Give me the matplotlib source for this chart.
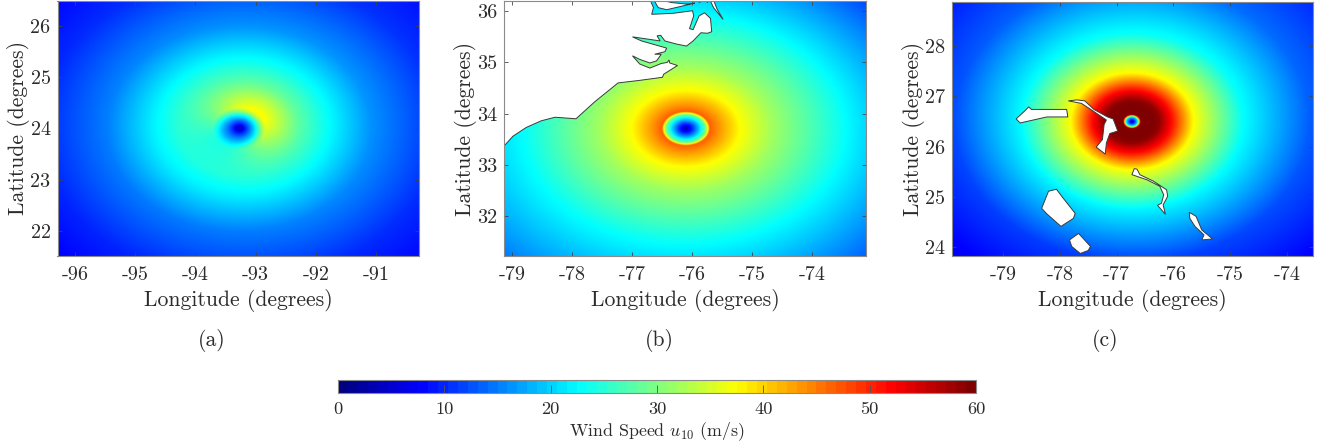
"""Wind speed fields for three storms, with a shared colorbar."""
import numpy as np
import matplotlib
matplotlib.use("Agg")
import matplotlib.pyplot as plt
from matplotlib.cm import ScalarMappable
from matplotlib.colors import LinearSegmentedColormap, Normalize
from matplotlib.patches import Polygon

plt.rcParams["font.family"] = ["cmr10", "DejaVu Serif"]
plt.rcParams["mathtext.fontset"] = "cm"
plt.rcParams["axes.formatter.use_mathtext"] = True
plt.rcParams["axes.unicode_minus"] = False

W, H = 1332, 446
TEXT = "#2b2b2b"
EDGE = "#8a8a8a"

# storm centres (lon, lat)
centre_a = (-93.28, 24.00)
centre_b = (-76.10, 33.71)
centre_c = (-76.73, 26.50)

# wind speed read against distance from the centre (degrees of latitude)
radius_a = [0.00, 0.08, 0.17, 0.26, 0.31, 0.40, 0.60, 0.90, 1.30, 2.00, 3.00, 4.00]
speed_a = [2.5, 8.5, 15.0, 21.0, 25.5, 31.0, 29.5, 26.5, 22.5, 15.5, 10.0, 7.0]
skew_a = [0.0, 0.0, 1.0, 3.0, 5.0, 7.0, 5.0, 2.0, 1.0, 0.8, 0.5, 0.5]

radius_b = [0.00, 0.08, 0.18, 0.27, 0.31, 0.33, 0.45, 0.75, 1.20, 2.25, 3.50, 4.50]
speed_b = [2.5, 9.0, 19.0, 29.0, 38.0, 47.0, 44.0, 37.5, 32.0, 22.5, 13.5, 10.0]
skew_b = [0.0, 0.0, 0.0, 0.0, 0.0, 0.0, 0.0, 0.0, 0.0, 0.3, 1.5, 1.5]

radius_c = [0.00, 0.05, 0.09, 0.115, 0.13, 0.15, 0.43, 0.65, 0.97, 1.75, 2.80, 4.00]
speed_c = [2.5, 12.0, 22.0, 36.0, 55.0, 62.0, 59.0, 51.0, 37.5, 22.5, 12.5, 7.5]
skew_c = [0.0, 0.0, 0.0, 0.0, 0.0, 0.0, 0.0, 0.0, 0.3, 0.5, 1.5, 1.5]

skew_angle = {"a": 45.0, "b": 225.0, "c": 70.0}

# land outlines (lon, lat)
coast_b = [
    (-79.25, 36.35), (-76.70, 36.35), (-76.70, 36.23), (-76.64, 36.07), (-76.67, 35.94),
    (-76.31, 35.96), (-75.99, 36.01), (-75.97, 35.91), (-76.04, 35.66), (-75.98, 35.64),
    (-75.88, 35.91), (-75.79, 35.97), (-75.69, 35.86), (-75.67, 35.60), (-75.74, 35.57),
    (-75.85, 35.58), (-75.98, 35.42), (-76.09, 35.32), (-76.26, 35.36), (-76.45, 35.42),
    (-76.52, 35.53), (-76.58, 35.52), (-76.53, 35.42), (-76.99, 35.50), (-76.84, 35.42),
    (-76.42, 35.28), (-76.45, 35.21), (-76.62, 35.16), (-76.51, 35.16), (-76.59, 35.03),
    (-76.70, 34.99), (-76.87, 35.06), (-76.99, 35.13), (-76.87, 34.97), (-76.70, 34.89),
    (-76.51, 34.98), (-76.41, 35.00), (-76.38, 35.05), (-76.37, 34.99), (-76.24, 34.94),
    (-76.47, 34.77), (-76.49, 34.71), (-76.87, 34.65), (-77.23, 34.60), (-77.62, 34.23),
    (-77.93, 33.90), (-78.28, 33.93), (-78.51, 33.86), (-78.76, 33.73), (-78.98, 33.56),
    (-79.12, 33.38), (-79.25, 33.28),
]
island_b1 = [(-76.63, 36.21), (-76.56, 36.07), (-76.42, 36.03), (-76.20, 36.09),
             (-75.95, 36.16), (-76.09, 36.14), (-76.34, 36.17), (-76.41, 36.19)]
island_b2 = [(-75.95, 36.25), (-75.87, 36.17), (-75.83, 36.25)]
island_b3 = [(-75.80, 36.25), (-75.74, 36.17), (-75.72, 36.25)]
island_b4 = [(-75.71, 36.25), (-75.64, 36.07), (-75.48, 35.84), (-75.58, 36.04), (-75.65, 36.25)]

island_c1 = [(-78.77, 26.55), (-78.60, 26.73), (-78.55, 26.79), (-78.50, 26.74),
             (-77.88, 26.74), (-77.86, 26.59), (-78.23, 26.59), (-78.70, 26.47)]
island_c2 = [(-77.85, 26.91), (-77.70, 26.93), (-77.56, 26.91), (-77.40, 26.74),
             (-77.16, 26.59), (-77.06, 26.55), (-76.98, 26.31), (-77.12, 26.26),
             (-77.18, 26.07), (-77.20, 25.85), (-77.36, 25.99), (-77.25, 26.14),
             (-77.22, 26.44), (-77.18, 26.53), (-77.47, 26.75), (-77.62, 26.86)]
island_c3 = [(-76.73, 25.44), (-76.69, 25.56), (-76.64, 25.55), (-76.59, 25.44),
             (-76.35, 25.31), (-76.12, 25.14), (-76.10, 25.01), (-76.18, 24.84),
             (-76.14, 24.65), (-76.21, 24.74), (-76.28, 24.83), (-76.21, 24.87),
             (-76.17, 25.04), (-76.24, 25.21), (-76.47, 25.34)]
island_c4 = [(-75.72, 24.69), (-75.60, 24.61), (-75.50, 24.34), (-75.31, 24.16),
             (-75.50, 24.14), (-75.46, 24.24), (-75.62, 24.41), (-75.71, 24.57)]
island_c5 = [(-78.32, 24.77), (-78.20, 25.11), (-78.06, 25.15), (-77.94, 24.97),
             (-77.73, 24.67), (-77.76, 24.57), (-77.98, 24.41), (-78.23, 24.66)]
island_c6 = [(-77.83, 24.14), (-77.67, 24.27), (-77.46, 24.01), (-77.50, 23.93),
             (-77.64, 23.87), (-77.79, 24.01)]

lon_ticks_a = [-96, -95, -94, -93, -92, -91]
lat_ticks_a = [22, 23, 24, 25, 26]
lon_ticks_b = [-79, -78, -77, -76, -75, -74]
lat_ticks_b = [32, 33, 34, 35, 36]
lon_ticks_c = [-79, -78, -77, -76, -75, -74]
lat_ticks_c = [24, 25, 26, 27, 28]
cbar_ticks = [0, 10, 20, 30, 40, 50, 60]

xlim_a, ylim_a = (-96.29, -90.28), (21.51, 26.50)
xlim_b, ylim_b = (-79.13, -73.10), (31.22, 36.20)
xlim_c, ylim_c = (-79.90, -73.54), (23.82, 28.88)

# MATLAB style jet: smooth on the maps, 64 steps on the colorbar
jet_nodes = [(0.0, (0, 0, 0.5)), (0.125, (0, 0, 1)), (0.375, (0, 1, 1)),
             (0.625, (1, 1, 0)), (0.875, (1, 0, 0)), (1.0, (0.5, 0, 0))]
cmap_field = LinearSegmentedColormap.from_list("mjet", jet_nodes, N=1024)
cmap_bar = LinearSegmentedColormap.from_list("mjet64", jet_nodes, N=64)
norm = Normalize(0, 60)


def px_axes(fig, x0, x1, y0, y1):
    """Axes from a pixel box measured from the top left."""
    return fig.add_axes([x0 / W, 1 - y1 / H, (x1 - x0) / W, (y1 - y0) / H])


def wind_field(xlim, ylim, centre, radius, speed, skew, angle):
    lon = np.linspace(*xlim, 724)
    lat = np.linspace(*ylim, 512)
    lon_g, lat_g = np.meshgrid(lon, lat)
    dx = (lon_g - centre[0]) * np.cos(np.deg2rad(centre[1]))
    dy = lat_g - centre[1]
    r = np.hypot(dx, dy)
    theta = np.arctan2(dy, dx) - np.deg2rad(angle)
    return np.interp(r, radius, speed) + np.interp(r, radius, skew) * np.cos(theta)


def draw_panel(ax, xlim, ylim, field, lon_ticks, lat_ticks, land):
    ax.imshow(field, origin="lower", extent=(*xlim, *ylim), aspect="auto",
              cmap=cmap_field, norm=norm, interpolation="bilinear")
    for outline in land:
        ax.add_patch(Polygon(outline, closed=True, facecolor="white",
                             edgecolor="#3a3a3a", linewidth=0.7))
    ax.set_xlim(xlim)
    ax.set_ylim(ylim)
    ax.set_xticks(lon_ticks)
    ax.set_xticklabels([str(v) for v in lon_ticks])
    ax.set_yticks(lat_ticks)
    ax.set_yticklabels([str(v) for v in lat_ticks])
    ax.tick_params(direction="in", top=True, right=True, length=3, width=0.6,
                   color="#444444", labelsize=14.5, labelcolor=TEXT)
    ax.tick_params(axis="x", pad=7)
    ax.tick_params(axis="y", pad=5)
    ax.set_xlabel("Longitude (degrees)", fontsize=15.6, color=TEXT, labelpad=4)
    ax.set_ylabel("Latitude (degrees)", fontsize=15.6, color=TEXT, labelpad=0)
    for s in ax.spines.values():
        s.set_color(EDGE)
        s.set_linewidth(0.8)


fig = plt.figure(figsize=(W / 100, H / 100), dpi=100)

ax_a = px_axes(fig, 57.5, 419.5, 0.5, 256)
ax_b = px_axes(fig, 504, 866, 1, 256)
ax_c = px_axes(fig, 952, 1313, 2, 256)

draw_panel(ax_a, xlim_a, ylim_a,
           wind_field(xlim_a, ylim_a, centre_a, radius_a, speed_a, skew_a, skew_angle["a"]),
           lon_ticks_a, lat_ticks_a, [])
draw_panel(ax_b, xlim_b, ylim_b,
           wind_field(xlim_b, ylim_b, centre_b, radius_b, speed_b, skew_b, skew_angle["b"]),
           lon_ticks_b, lat_ticks_b, [coast_b, island_b1, island_b2, island_b3, island_b4])
draw_panel(ax_c, xlim_c, ylim_c,
           wind_field(xlim_c, ylim_c, centre_c, radius_c, speed_c, skew_c, skew_angle["c"]),
           lon_ticks_c, lat_ticks_c,
           [island_c1, island_c2, island_c3, island_c4, island_c5, island_c6])

for label, x in (("(a)", 212), ("(b)", 659), ("(c)", 1105)):
    fig.text(x / W, 1 - 340 / H, label, ha="center", va="center",
             fontsize=15.6, color=TEXT)

cax = px_axes(fig, 338, 976, 380, 393)
cbar = fig.colorbar(ScalarMappable(norm=norm, cmap=cmap_bar), cax=cax, orientation="horizontal")
cbar.set_ticks(cbar_ticks)
cbar.set_ticklabels([str(v) for v in cbar_ticks])
cbar.ax.tick_params(direction="in", length=6, width=0.6, color="#555555",
                    labelsize=13.2, labelcolor=TEXT, pad=6)
cbar.outline.set_edgecolor(EDGE)
cbar.outline.set_linewidth(0.8)
cbar.set_label(r"Wind Speed $u_{10}$ (m/s)", fontsize=12.9, color=TEXT, labelpad=3)

fig.savefig("out.png", dpi=100)
